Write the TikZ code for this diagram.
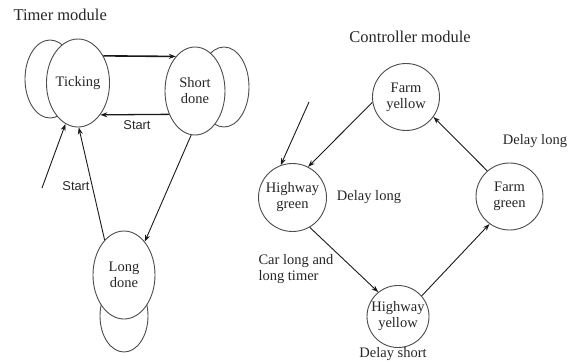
\documentclass[tikz,border=0pt]{standalone}
\usepackage{fontspec}
\setmainfont{Liberation Serif}
\newfontfamily\labelsans{Liberation Sans}
\usetikzlibrary{shapes.geometric,arrows.meta}
\begin{document}
\begin{tikzpicture}[x=1pt,y=-1pt,
  every node/.style={font=\fontsize{14.5}{16}\selectfont,text=black!85},
  state/.style={ellipse,draw=black!70,line width=0.9pt,fill=white,inner sep=0pt,align=center},
  loopback/.style={ellipse,draw=black!70,line width=0.9pt,inner sep=0pt},
  cstate/.style={circle,draw=black!70,line width=0.9pt,fill=white,inner sep=0pt,align=center},
  title/.style={font=\fontsize{16.5}{18}\selectfont},
  sanslabel/.style={font=\labelsans\fontsize{12.8}{14}\selectfont},
  tr/.style={draw=black!90,line width=0.9pt,-{Stealth[length=7pt,width=5pt]}},
  trbold/.style={tr,line width=1.6pt}]
\useasboundingbox (0,0) rectangle (569,362);

% ---- Timer module ----
\node[title,anchor=west] (ttl) at (10,15) {Timer module};

% self-loop ellipses sit behind the states
\node[loopback,minimum width=50pt,minimum height=78pt] (tickloop) at (50,79) {};
\node[loopback,minimum width=50pt,minimum height=80pt] (shortloop) at (224,87) {};
\node[loopback,minimum width=48pt,minimum height=72pt] (longloop) at (124,316) {};

\node[state,minimum width=60pt,minimum height=88pt] (tick) at (78,83) {Ticking};
\node[state,minimum width=60pt,minimum height=88pt] (short) at (195,91) {Short\\done};
\node[state,minimum width=62pt,minimum height=88pt] (long) at (124,275) {Long\\done};

\coordinate (tickinit) at (42,188);

\draw[trbold] (tick.47) -- (short.119.3);
\draw[tr,line width=1.3pt] (short.222) -- (tick.-55.5);
\draw[tr] (short.-95) -- (long.58);
\draw[tr] (long.119) -- (tick.-89);
\draw[tr] (tickinit) -- (tick.-107);

\node[sanslabel] (st1) at (137,125) {Start};
\node[sanslabel] (st2) at (76,186) {Start};

% ---- Controller module ----
\node[title] (ctl) at (410,37) {Controller module};

\node[cstate,minimum size=67pt] (fy) at (406,97) {Farm\\yellow};
\node[cstate,minimum size=68pt] (hg) at (292.5,197.5) {Highway\\green};
\node[cstate,minimum size=67pt] (fg) at (509.5,196.5) {Farm\\green};
\node[cstate,minimum size=62pt] (hy) at (398,316.5) {Highway\\yellow};

\coordinate (hginit) at (309,102);

\draw[tr] (fy.189) -- (hg.63);
\draw[tr] (hginit) -- (hg.110);
\draw[tr] (fg.131) -- (fy.-36.6);
\draw[tr] (hg.-60.5) -- (hy.129);
\draw[tr] (hy.41.5) -- (fg.234);

\node (dl1) at (369,197) {Delay long};
\node (dl2) at (535,141) {Delay long};
\node[align=left] (cl) at (296,269) {Car long and\\long timer};
\node (ds) at (393,354.5) {Delay short};
\end{tikzpicture}
\end{document}
